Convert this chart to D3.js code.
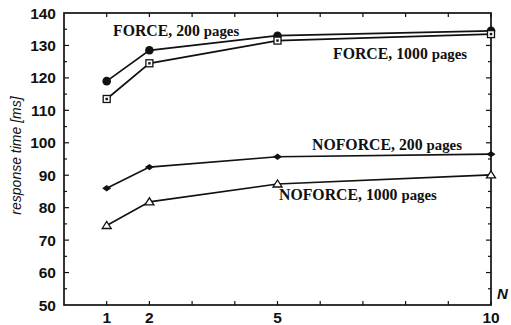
<!DOCTYPE html>
<html>
<head>
<meta charset="utf-8">
<script src="https://cdn.jsdelivr.net/npm/d3@7"></script>
<style>
  html, body { margin: 0; padding: 0; background: #fff; }
  svg { display: block; }
</style>
</head>
<body>
<svg id="chart" width="511" height="325"></svg>
<script>
// Response time vs. N for FORCE / NOFORCE strategies
const nValues = [1, 2, 5, 10];
const force200 = [119, 128.5, 133, 134.5];
const force1000 = [113.5, 124.5, 131.5, 133.5];
const noforce200 = [86, 92.5, 95.7, 96.5];
const noforce1000 = [74.5, 81.8, 87.3, 90.1];

const xTickLabels = [1, 2, 5, 10];
const yTickLabels = [50, 60, 70, 80, 90, 100, 110, 120, 130, 140];

const seriesNames = ["FORCE, 200 pages", "FORCE, 1000 pages", "NOFORCE, 200 pages", "NOFORCE, 1000 pages"];

const svg = d3.select("#chart");
const plotLeft = 64, plotRight = 491, plotTop = 13, plotBottom = 305;

const x = d3.scaleLinear().domain([0, 10]).range([plotLeft, plotRight]);
const y = d3.scaleLinear().domain([50, 140]).range([plotBottom, plotTop]);

const ink = "#111";

// Frame
svg.append("rect")
  .attr("x", plotLeft).attr("y", plotTop)
  .attr("width", plotRight - plotLeft).attr("height", plotBottom - plotTop)
  .attr("fill", "none").attr("stroke", ink).attr("stroke-width", 1.7);

// Inward ticks on all four sides
const xMinor = d3.range(1, 11);
const yMinor = d3.range(55, 140, 5);
const tickG = svg.append("g").attr("stroke", ink).attr("stroke-width", 1.2);
xMinor.forEach(v => {
  tickG.append("line").attr("x1", x(v)).attr("x2", x(v)).attr("y1", plotBottom).attr("y2", plotBottom - 4);
  tickG.append("line").attr("x1", x(v)).attr("x2", x(v)).attr("y1", plotTop).attr("y2", plotTop + 4);
});
yMinor.forEach(v => {
  const len = v % 10 === 0 ? 5 : 3;
  tickG.append("line").attr("x1", plotLeft).attr("x2", plotLeft + len).attr("y1", y(v)).attr("y2", y(v));
  tickG.append("line").attr("x1", plotRight).attr("x2", plotRight - len).attr("y1", y(v)).attr("y2", y(v));
});

// Tick labels
const labelFont = "'Liberation Sans', Arial, sans-serif";
svg.append("g").selectAll("text").data(yTickLabels).join("text")
  .attr("x", plotLeft - 8).attr("y", d => y(d)).attr("dy", "0.36em")
  .attr("text-anchor", "end")
  .attr("font-family", labelFont).attr("font-size", 15.5).attr("font-weight", "bold")
  .attr("fill", ink)
  .text(d => d);

svg.append("g").selectAll("text").data(xTickLabels).join("text")
  .attr("x", d => x(d)).attr("y", 323)
  .attr("text-anchor", "middle")
  .attr("font-family", labelFont).attr("font-size", 15.5).attr("font-weight", "bold")
  .attr("fill", ink)
  .text(d => d);

// Axis titles
svg.append("text")
  .attr("transform", `translate(21,${(88 + 223) / 2}) rotate(-90)`)
  .attr("text-anchor", "middle")
  .attr("font-family", labelFont).attr("font-size", 14).attr("font-style", "italic")
  .attr("fill", ink)
  .text("response time [ms]");

svg.append("text")
  .attr("x", 497).attr("y", 299)
  .attr("font-family", labelFont).attr("font-size", 15).attr("font-style", "italic").attr("font-weight", "bold")
  .attr("fill", ink)
  .text("N");

// Lines
const line = d3.line().x((d, i) => x(nValues[i])).y(d => y(d));
const allSeries = [force200, force1000, noforce200, noforce1000];
svg.append("g").selectAll("path").data(allSeries).join("path")
  .attr("d", d => line(d))
  .attr("fill", "none").attr("stroke", ink).attr("stroke-width", 1.7);

// Markers
const mk = svg.append("g");
force200.forEach((v, i) => {
  mk.append("circle").attr("cx", x(nValues[i])).attr("cy", y(v)).attr("r", 4.3).attr("fill", ink);
});
force1000.forEach((v, i) => {
  const cx = x(nValues[i]), cy = y(v);
  mk.append("rect").attr("x", cx - 3.5).attr("y", cy - 3.5).attr("width", 7).attr("height", 7)
    .attr("fill", "#fff").attr("stroke", ink).attr("stroke-width", 1.3);
  mk.append("rect").attr("x", cx - 1.2).attr("y", cy - 1.2).attr("width", 2.4).attr("height", 2.4).attr("fill", ink);
});
noforce200.forEach((v, i) => {
  const cx = x(nValues[i]), cy = y(v);
  mk.append("path")
    .attr("d", `M${cx - 4.5},${cy} L${cx},${cy - 3.2} L${cx + 4.5},${cy} L${cx},${cy + 3.2} Z`)
    .attr("fill", ink);
});
noforce1000.forEach((v, i) => {
  const cx = x(nValues[i]), cy = y(v);
  mk.append("path")
    .attr("d", `M${cx - 4.5},${cy + 3} L${cx},${cy - 4} L${cx + 4.5},${cy + 3} Z`)
    .attr("fill", "#fff").attr("stroke", ink).attr("stroke-width", 1.3);
});

// Series labels
const serif = "'Liberation Serif', 'Times New Roman', serif";
const labelPos = [[113, 35.5], [333, 58.5], [312, 150], [279, 200]];
seriesNames.forEach((name, i) => {
  const parts = name.split(" pages");
  const t = svg.append("text")
    .attr("x", labelPos[i][0]).attr("y", labelPos[i][1])
    .attr("font-family", serif).attr("font-weight", "bold").attr("fill", ink);
  t.append("tspan").attr("font-size", 15.8).text(parts[0] + " ");
  t.append("tspan").attr("font-size", 14.8).text("pages");
});
</script>
</body>
</html>
